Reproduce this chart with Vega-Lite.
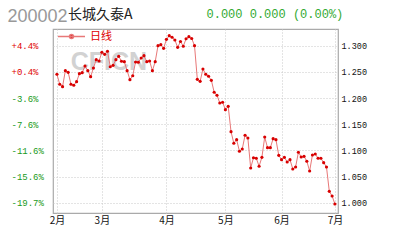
{
  "$schema": "https://vega.github.io/schema/vega-lite/v6.json",
  "width": 285,
  "height": 184,
  "autosize": {"type": "none"},
  "padding": {"left": 53, "top": 29, "right": 70, "bottom": 27},
  "background": "white",
  "title": {"text": "长城久泰A", "anchor": "start", "frame": "group", "dx": 15, "dy": 15, "font": "Noto Sans CJK SC", "fontSize": 14, "fontWeight": "normal", "color": "#222", "offset": 0},
  "data": {"values": [
    {"d":0,"nav":1.2455},{"d":1,"nav":1.2264},{"d":2,"nav":1.2218},{"d":3,"nav":1.2524},{"d":4,"nav":1.2493},
    {"d":5,"nav":1.2264},{"d":6,"nav":1.2245},{"d":7,"nav":1.2314},{"d":8,"nav":1.2467},{"d":9,"nav":1.2486},
    {"d":10,"nav":1.2614},{"d":11,"nav":1.2524},{"d":12,"nav":1.2409},{"d":13,"nav":1.2576},{"d":14,"nav":1.2734},
    {"d":15,"nav":1.2709},{"d":16,"nav":1.2876},{"d":17,"nav":1.2837},{"d":18,"nav":1.2895},{"d":19,"nav":1.2600},
    {"d":20,"nav":1.2627},{"d":21,"nav":1.2734},{"d":22,"nav":1.2799},{"d":23,"nav":1.2704},{"d":24,"nav":1.2696},
    {"d":25,"nav":1.2524},{"d":26,"nav":1.2352},{"d":27,"nav":1.2428},{"d":28,"nav":1.2690},{"d":29,"nav":1.2685},
    {"d":30,"nav":1.2767},{"d":31,"nav":1.2811},{"d":32,"nav":1.2696},{"d":33,"nav":1.2709},{"d":34,"nav":1.2524},
    {"d":35,"nav":1.2696},{"d":36,"nav":1.3002},{"d":37,"nav":1.3021},{"d":38,"nav":1.2952},{"d":39,"nav":1.3124},
    {"d":40,"nav":1.3193},{"d":41,"nav":1.3163},{"d":42,"nav":1.3111},{"d":43,"nav":1.2971},{"d":44,"nav":1.3082},
    {"d":45,"nav":1.2992},{"d":46,"nav":1.3134},{"d":47,"nav":1.3174},{"d":48,"nav":1.3140},{"d":49,"nav":1.3002},
    {"d":50,"nav":1.2359},{"d":51,"nav":1.2321},{"d":52,"nav":1.2556},{"d":53,"nav":1.2455},{"d":54,"nav":1.2417},
    {"d":55,"nav":1.2340},{"d":56,"nav":1.2111},{"d":57,"nav":1.2054},{"d":58,"nav":1.1906},{"d":59,"nav":1.1920},
    {"d":60,"nav":1.1778},{"d":61,"nav":1.1843},{"d":62,"nav":1.1358},{"d":63,"nav":1.1136},{"d":64,"nav":1.1205},
    {"d":65,"nav":1.0983},{"d":66,"nav":1.1027},{"d":67,"nav":1.1289},{"d":68,"nav":1.1237},{"d":69,"nav":1.0663},
    {"d":70,"nav":1.0860},{"d":71,"nav":1.0849},{"d":72,"nav":1.0696},{"d":73,"nav":1.0868},{"d":74,"nav":1.1256},
    {"d":75,"nav":1.1052},{"d":76,"nav":1.1052},{"d":77,"nav":1.1224},{"d":78,"nav":1.1205},{"d":79,"nav":1.0906},
    {"d":80,"nav":1.0822},{"d":81,"nav":1.0868},{"d":82,"nav":1.0778},{"d":83,"nav":1.0822},{"d":84,"nav":1.0644},
    {"d":85,"nav":1.0683},{"d":86,"nav":1.0964},{"d":87,"nav":1.0874},{"d":88,"nav":1.0887},{"d":89,"nav":1.0792},
    {"d":90,"nav":1.0606},{"d":91,"nav":1.0912},{"d":92,"nav":1.0931},{"d":93,"nav":1.0849},{"d":94,"nav":1.0849},
    {"d":95,"nav":1.0765},{"d":96,"nav":1.0683},{"d":97,"nav":1.0218},{"d":98,"nav":1.0128},{"d":99,"nav":0.9975}
  ]},
  "layer": [
    {
      "data": {"values": [{"wm": "CFICN"}]},
      "mark": {"type": "text", "font": "Liberation Sans", "fontSize": 25, "fontWeight": "bold", "color": "#d2d2d2", "align": "center", "baseline": "middle"},
      "encoding": {
        "x": {"datum": 18.5, "type": "quantitative", "scale": {"domain": [-1.4, 100.1], "nice": false, "zero": false},
          "axis": {"title": null, "values": [0, 16, 39, 60, 80, 99],
            "labelExpr": "datum.value == 0 ? '2月' : datum.value == 16 ? '3月' : datum.value == 39 ? '4月' : datum.value == 60 ? '5月' : datum.value == 80 ? '6月' : '7月'",
            "labelFont": "Noto Sans CJK SC", "labelFontSize": 10, "labelColor": "#111", "labelPadding": 2,
            "ticks": false, "domain": false, "grid": true, "gridColor": "#c8c8c8", "gridDash": [1, 2], "labelFlush": false}},
        "y": {"datum": 1.269, "type": "quantitative", "axis": null},
        "text": {"field": "wm"}
      }
    },
    {
      "mark": {"type": "line", "strokeWidth": 1, "clip": true},
      "encoding": {
        "x": {"field": "d", "type": "quantitative"},
        "y": {"field": "nav", "type": "quantitative", "scale": {"domain": [0.9803, 1.3321], "nice": false, "zero": false},
          "axis": {"orient": "left", "title": "200002", "titleX": -46, "titleY": -8, "titleAngle": 0, "titleAlign": "left", "titleBaseline": "alphabetic",
            "titleFont": "Liberation Sans", "titleFontSize": 18, "titleFontWeight": "normal", "titleColor": "#999",
            "values": [1.0, 1.05, 1.1, 1.15, 1.2, 1.25, 1.3],
            "labelExpr": "datum.value > 1.29 ? '+4.4%' : datum.value > 1.24 ? '+0.4%' : datum.value > 1.19 ? '-3.6%' : datum.value > 1.14 ? '-7.6%' : datum.value > 1.09 ? '-11.6%' : datum.value > 1.04 ? '-15.6%' : '-19.7%'",
            "labelAlign": "left", "labelPadding": 42, "labelFont": "Liberation Mono", "labelFontSize": 9,
            "labelColor": {"condition": {"test": "datum.value > 1.245", "value": "#e00000"}, "value": "#1a9a1a"},
            "ticks": false, "domain": false, "grid": true, "gridColor": "#c8c8c8", "gridDash": [1, 2]}},
        "color": {"datum": "日线", "type": "nominal", "scale": {"range": ["#e87878"]},
          "legend": {"title": null, "orient": "none", "legendX": 4, "legendY": -7, "padding": 0,
            "symbolType": "M-1,0H1M0.15,0A0.15,0.15,0,1,1,-0.15,0A0.15,0.15,0,1,1,0.15,0Z", "symbolSize": 729,
            "symbolStrokeWidth": 1.5, "symbolFillColor": "#d00000", "symbolStrokeColor": "#e87878",
            "labelFont": "Noto Sans CJK SC", "labelFontSize": 11, "labelColor": "#e00000", "labelOffset": 4}}
      }
    },
    {
      "mark": {"type": "point", "filled": true, "size": 10, "color": "#d80000", "opacity": 1},
      "encoding": {
        "x": {"field": "d", "type": "quantitative"},
        "y": {"field": "nav", "type": "quantitative",
          "axis": {"orient": "right", "title": "0.000 0.000 (0.00%)", "titleX": -132, "titleY": -12, "titleAngle": 0, "titleAlign": "left", "titleBaseline": "alphabetic",
            "titleFont": "Liberation Mono", "titleFontSize": 12, "titleFontWeight": "normal", "titleColor": "#33aa33",
            "values": [1.0, 1.05, 1.1, 1.15, 1.2, 1.25, 1.3], "format": ".3f",
            "labelFont": "Liberation Mono", "labelFontSize": 8.5, "labelColor": "#111", "labelPadding": 3,
            "ticks": false, "domain": false, "grid": false}}
      }
    }
  ],
  "resolve": {"axis": {"y": "independent"}},
  "config": {
    "view": {"stroke": "#aaa", "strokeWidth": 1.2}
  }
}
